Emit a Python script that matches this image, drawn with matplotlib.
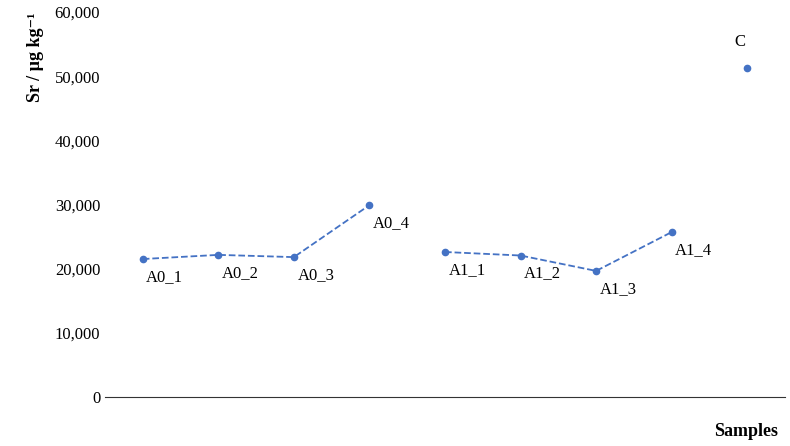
import matplotlib.pyplot as plt

plt.rcParams['font.family'] = ['Liberation Serif', 'DejaVu Serif']

samples = ["A0_1", "A0_2", "A0_3", "A0_4", "A1_1", "A1_2", "A1_3", "A1_4", "C"]
sr = [21500, 22150, 21800, 29900, 22600, 22050, 19650, 25700, 51300]
groups = [(0, 4), (4, 8), (8, 9)]
COLOR = "#4472C4"

fig = plt.figure(figsize=(7.9, 4.46), dpi=100)
ax = fig.add_axes([105 / 790, 1 - 397 / 446, 680 / 790, 385 / 446])

for a, b in groups:
    xs = list(range(a, b))
    ax.plot(xs, sr[a:b], "--", color=COLOR, lw=1.3, marker="o", ms=4.5)

for i, (name, v) in enumerate(zip(samples, sr)):
    if name == "C":
        off, ha, va = (-7, 18), "center", "bottom"
    else:
        off, ha, va = (22, -10), "center", "top"
    ax.annotate(name, (i, v), xytext=off, textcoords="offset pixels",
                ha=ha, va=va, fontsize=12)

ax.set_xlim(-0.5, 8.5)
ax.set_ylim(0, 60000)
ax.set_yticks(range(0, 60001, 10000))
ax.set_yticklabels([f"{t:,}" for t in range(0, 60001, 10000)], fontsize=12)
ax.set_xticks([])
ax.tick_params(axis="y", length=0)
for s in ("top", "right", "left"):
    ax.spines[s].set_visible(False)
ax.spines["bottom"].set_color("#333333")

ax.set_ylabel("Sr / µg kg⁻¹", fontsize=13, fontweight="bold", loc="top", labelpad=8)
fig.text(778 / 790, 1 - 432 / 446, "Samples", ha="right", va="center",
         fontsize=13, fontweight="bold")

fig.savefig("out.png", dpi=100)
